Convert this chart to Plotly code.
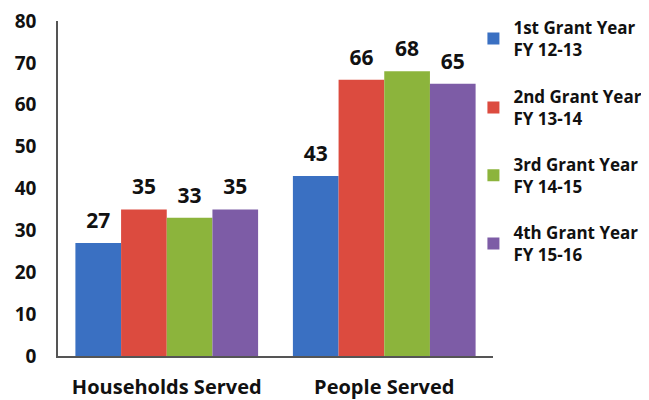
import plotly.graph_objects as go

categories = ["Households Served", "People Served"]
series_names = ["1st Grant Year<br>FY 12-13", "2nd Grant Year<br>FY 13-14",
                "3rd Grant Year<br>FY 14-15", "4th Grant Year<br>FY 15-16"]
values = [
    [27, 43],
    [35, 66],
    [33, 68],
    [35, 65],
]
colors = ["#3A70C2", "#DC4B3F", "#8CB43C", "#7D5CA6"]
y_ticks = [0, 10, 20, 30, 40, 50, 60, 70, 80]

FONT = "Open Sans"
legend_ids = ["legend", "legend2", "legend3", "legend4"]
legend_y = [1.033, 0.827, 0.625, 0.421]

fig = go.Figure()
for i, (name, vals, col) in enumerate(zip(series_names, values, colors)):
    fig.add_trace(go.Bar(
        x=categories, y=vals, name=name, marker=dict(color=col, line=dict(width=0)),
        offsetgroup=str(i), alignmentgroup="a", legend=legend_ids[i],
    ))
for i, vals in enumerate(values):
    fig.add_trace(go.Scatter(
        x=categories, y=vals, mode="markers+text", showlegend=False,
        offsetgroup=str(i), alignmentgroup="a",
        marker=dict(size=14, opacity=0),
        text=[str(v) for v in vals], textposition="top center", cliponaxis=False,
        textfont=dict(family=FONT, size=21, color="#111111", weight="bold"),
        hoverinfo="skip",
    ))

leg_common = dict(
    x=0.955, xanchor="left", yanchor="top",
    font=dict(family=FONT, size=17, color="#111111", weight="bold"),
    itemwidth=30, bgcolor="rgba(0,0,0,0)",
)

# page body has an 8px default margin, so the figure is 8px smaller
fig.update_layout(
    width=641, height=392,
    margin=dict(l=50, r=156, t=13, b=44, autoexpand=False),
    plot_bgcolor="white", paper_bgcolor="white",
    barmode="group", bargap=0.16, bargroupgap=0,
    scattermode="group", scattergap=0.16,
    font=dict(family=FONT, color="#111111"),
    showlegend=True,
    xaxis=dict(
        showline=True, linecolor="#555555", linewidth=1.5, automargin=False,
        tickfont=dict(family=FONT, size=20, color="#111111", weight="bold"),
        ticks="", ticklabelstandoff=12,
    ),
    yaxis=dict(
        range=[0, 80], tickvals=y_ticks, showgrid=False, zeroline=False,
        showline=True, linecolor="#555555", linewidth=1.5, automargin=False,
        tickfont=dict(family=FONT, size=19, color="#111111", weight="bold"),
        ticks="", ticklabelstandoff=16, ticklabeloverflow="allow",
    ),
)
for lid, ly in zip(legend_ids, legend_y):
    fig.update_layout({lid: dict(leg_common, y=ly)})

fig.write_html("out.html")
